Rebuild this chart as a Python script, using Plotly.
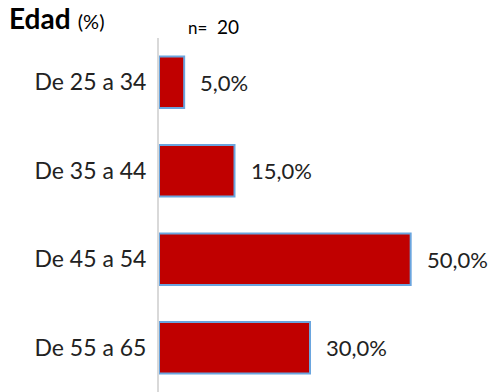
import plotly.graph_objects as go

# Age distribution of respondents (%)
categories = ["De 25 a 34", "De 35 a 44", "De 45 a 54", "De 55 a 65"]
values = [5.0, 15.0, 50.0, 30.0]
labels = [f"{v:.1f}%".replace(".", ",") for v in values]
sample_size = 20

FONT = "Lato, Open Sans, sans-serif"

fig = go.Figure(
    go.Bar(
        x=values,
        y=categories,
        orientation="h",
        marker=dict(color="#C00000", line=dict(color="#6AA5DE", width=2)),
        width=0.58,
        hoverinfo="skip",
    )
)

# Value labels to the right of each bar
for cat, val, lab in zip(categories, values, labels):
    fig.add_annotation(
        x=val, y=cat, text=lab, showarrow=False,
        xanchor="left", yanchor="middle", xshift=14,
        font=dict(family=FONT, size=22, color="#222222"),
    )

# Title and sample size
fig.add_annotation(
    xref="paper", yref="paper", x=-0.5, y=1.0, xanchor="left", yanchor="bottom",
    xshift=-1, yshift=1, showarrow=False,
    text="<b>Edad</b> <span style='font-size:20px'>(%)</span>",
    font=dict(family=FONT, size=28, color="#000000"),
)
fig.add_annotation(
    xref="paper", yref="paper", x=0.09, y=1.0, xanchor="left", yanchor="bottom",
    yshift=-2, showarrow=False,
    text=f"<span style='font-size:17px'>n=</span>  {sample_size}",
    font=dict(family=FONT, size=19, color="#000000"),
)

fig.update_layout(
    width=495, height=392,
    margin=dict(l=159, r=34, t=38, b=0),
    paper_bgcolor="white", plot_bgcolor="white",
    showlegend=False,
    xaxis=dict(range=[0, 60], visible=False, fixedrange=True),
    yaxis=dict(
        autorange="reversed",
        showline=True, linecolor="#D9D9D9", linewidth=2,
        showgrid=False, ticks="", ticklabelstandoff=6,
        tickfont=dict(family=FONT, size=23, color="#222222"),
    ),
)

fig.write_html("out.html")
